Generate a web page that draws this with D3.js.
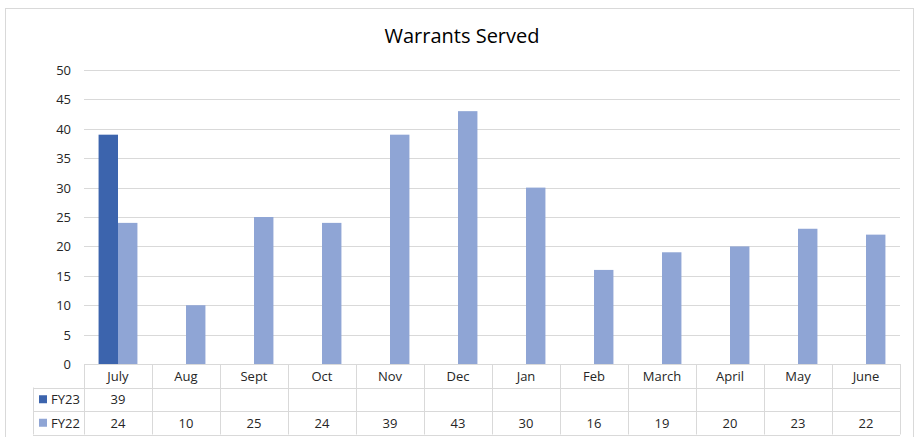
<!DOCTYPE html>
<html>
<head>
<meta charset="utf-8">
<script src="https://cdn.jsdelivr.net/npm/d3@7"></script>
<style>
  body { margin: 0; background: #fff; }
  svg { font-family: "Open Sans", "Liberation Sans", sans-serif; }
</style>
</head>
<body>
<svg id="chart" width="915" height="437"></svg>
<script>
const months = ["July", "Aug", "Sept", "Oct", "Nov", "Dec", "Jan", "Feb", "March", "April", "May", "June"];
const seriesNames = ["FY23", "FY22"];
const fy23 = [39, null, null, null, null, null, null, null, null, null, null, null];
const fy22 = [24, 10, 25, 24, 39, 43, 30, 16, 19, 20, 23, 22];
const yTicks = [0, 5, 10, 15, 20, 25, 30, 35, 40, 45, 50];
const colors = ["#3c64ad", "#8fa5d5"];

const svg = d3.select("#chart");
const plot = { left: 84, right: 900, top: 70, bottom: 364 };
const rowH = 23.5;
const labelLeft = 33;

// outer frame
svg.append("rect")
  .attr("x", 5.5).attr("y", 8.5)
  .attr("width", 908).attr("height", 440)
  .attr("fill", "none").attr("stroke", "#d9d9d9");

svg.append("text")
  .attr("x", 462).attr("y", 43)
  .attr("text-anchor", "middle")
  .attr("font-size", 20)
  .attr("fill", "#000")
  .text("Warrants Served");

const x = d3.scaleBand().domain(months).range([plot.left, plot.right]);
const xInner = d3.scaleBand().domain(seriesNames)
  .range([0, x.bandwidth()]).paddingOuter(0.75).paddingInner(0);
const y = d3.scaleLinear().domain([0, 50]).range([plot.bottom, plot.top]);

// gridlines
svg.append("g")
  .selectAll("line")
  .data(yTicks.filter(d => d > 0))
  .join("line")
  .attr("x1", plot.left).attr("x2", plot.right)
  .attr("y1", d => Math.round(y(d)) + 0.5).attr("y2", d => Math.round(y(d)) + 0.5)
  .attr("stroke", "#d9d9d9");

// y axis labels
svg.append("g")
  .selectAll("text")
  .data(yTicks)
  .join("text")
  .attr("x", 71).attr("y", d => y(d) + 5)
  .attr("text-anchor", "end")
  .attr("font-size", 13)
  .attr("fill", "#262626")
  .text(d => d);

// bars
const series = [fy23, fy22];
series.forEach((vals, si) => {
  svg.append("g")
    .selectAll("rect")
    .data(months.map((m, i) => ({ m, v: vals[i] })).filter(d => d.v != null))
    .join("rect")
    .attr("x", d => x(d.m) + xInner(seriesNames[si]))
    .attr("width", xInner.bandwidth())
    .attr("y", d => y(d.v))
    .attr("height", d => y(0) - y(d.v))
    .attr("fill", colors[si]);
});

// data table
const table = svg.append("g").attr("stroke", "#d9d9d9").attr("fill", "none");
const tableBottom = plot.bottom + rowH * 3;
// horizontal lines
[plot.bottom, plot.bottom + rowH, plot.bottom + rowH * 2, tableBottom].forEach((yy, i) => {
  table.append("line")
    .attr("x1", i === 0 ? plot.left : labelLeft).attr("x2", plot.right)
    .attr("y1", Math.round(yy) + 0.5).attr("y2", Math.round(yy) + 0.5);
});
// vertical lines
months.concat(["end"]).forEach((m, i) => {
  const xx = i < months.length ? x(m) : plot.right;
  table.append("line")
    .attr("x1", Math.round(xx) + 0.5).attr("x2", Math.round(xx) + 0.5)
    .attr("y1", plot.bottom).attr("y2", tableBottom);
});
table.append("line")
  .attr("x1", labelLeft + 0.5).attr("x2", labelLeft + 0.5)
  .attr("y1", plot.bottom + rowH).attr("y2", tableBottom);

const txt = svg.append("g").attr("font-size", 13).attr("fill", "#262626").attr("text-anchor", "middle");
months.forEach((m, i) => {
  const cx = x(m) + x.bandwidth() / 2;
  txt.append("text").attr("x", cx).attr("y", plot.bottom + rowH / 2 + 5).text(m);
  series.forEach((vals, si) => {
    if (vals[i] != null) {
      txt.append("text").attr("x", cx).attr("y", plot.bottom + rowH * (si + 1) + rowH / 2 + 5).text(vals[i]);
    }
  });
});

seriesNames.forEach((s, si) => {
  const cy = plot.bottom + rowH * (si + 1) + rowH / 2;
  svg.append("rect")
    .attr("x", 39).attr("y", cy - 4).attr("width", 8).attr("height", 8)
    .attr("fill", colors[si]);
  svg.append("text")
    .attr("x", 51).attr("y", cy + 5)
    .attr("font-size", 13).attr("fill", "#262626")
    .text(s);
});
</script>
</body>
</html>
